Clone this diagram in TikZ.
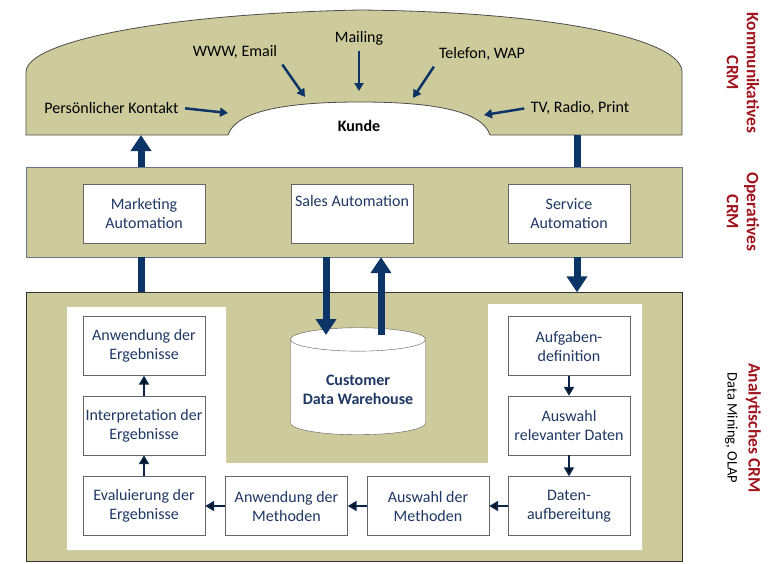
\documentclass[tikz,border=0pt]{standalone}
\usepackage{fontspec}
\setmainfont{Carlito}
\usetikzlibrary{arrows.meta,shapes.geometric}
\definecolor{olivband}{RGB}{205,203,156}
\definecolor{navy}{RGB}{12,52,102}
\definecolor{boxtext}{RGB}{31,56,100}
\definecolor{crmred}{RGB}{160,20,30}
\definecolor{bandline}{RGB}{105,115,135}
\begin{document}
\begin{tikzpicture}[x=1pt, y=-1pt, every node/.style={font=\fontsize{16}{19}\selectfont},
    stepbox/.style={draw=gray!80!black, fill=white, text=boxtext, align=center, minimum width=122pt, minimum height=59pt, inner sep=1pt},
    band/.style={fill=olivband, minimum width=656pt},
    bigarrow/.style={draw=navy, line width=7pt, -{Triangle[width=20pt,length=16pt]}},
    bigbar/.style={draw=navy, line width=7pt},
    channel/.style={draw=navy, line width=2.5pt, shorten <=3pt, -{Triangle[width=9pt,length=8pt]}},
    flow/.style={draw=navy!70!black, line width=2pt, -{Triangle[width=10pt,length=9pt,fill=black]}},
    crmlabel/.style={rotate=-90, align=center, text=crmred, font=\fontsize{17.5}{20}\selectfont\bfseries}]

\useasboundingbox (0,0) rectangle (768,563);

\filldraw[fill=olivband, draw=gray!60!black, line width=.8pt] (26,135) -- (26,72) .. controls (26,42) and (160,14) .. (360,10) .. controls (560,12) and (682,40) .. (682,72) -- (682,135) -- (490,135) .. controls (482,110) and (430,102) .. (360,102) .. controls (290,102) and (236,110) .. (228,135) -- cycle;

\node (kunde) at (359,126) {\bfseries Kunde};
\node (kontakt) at (111.5,108) {Persönlicher Kontakt};
\node (www) at (235,52) {WWW, Email};
\node (mailing) at (359,38) {Mailing};
\node (telefon) at (482,54) {Telefon, WAP};
\node (tv) at (580,108) {TV, Radio, Print};
\coordinate (k1) at (228,113);
\coordinate (k2) at (305,97);
\coordinate (k3) at (359,91);
\coordinate (k4) at (413,98);
\coordinate (k5) at (484,115);
\draw[channel] (kontakt.east) -- (k1);
\draw[channel] (www.south east) -- (k2);
\draw[channel] (mailing.south) -- (k3);
\draw[channel] (telefon.south west) -- (k4);
\draw[channel] (tv.west) -- (k5);

\node[band, draw=bandline, minimum height=90pt] (operativ) at (354,212) {};
\node[stepbox] (marketing) at (144,213.5) {Marketing\\Automation};
\node[stepbox] (sales) at (352,213.5) {Sales Automation\\\strut};
\node[stepbox] (service) at (569,213.5) {Service\\Automation};

\node[band, draw=gray!40!black, minimum height=269pt] (analytisch) at (354,427) {};
\fill[white] (67,307) -- (226,307) -- (226,463) -- (488,463) -- (488,304) -- (642,304) -- (642,550) -- (67,550) -- cycle;

\node[cylinder, shape border rotate=90, aspect=0.2, draw=gray!70!black, fill=white, text=boxtext, align=center, minimum width=135pt, minimum height=107pt] (dwh) at (358,389) {\raisebox{-6pt}[0pt][0pt]{\bfseries Customer}\\\raisebox{-6pt}[0pt][0pt]{\bfseries Data Warehouse}};

\coordinate (kom1) at (141,135);
\coordinate (kom2) at (577,135);
\coordinate (dwhin) at (326,335);
\coordinate (dwhout) at (381,335);
\draw[bigarrow] (operativ.north -| kom1) -- (kom1);
\draw[bigbar] (kom2) -- (operativ.north -| kom2);
\draw[bigbar] (operativ.south -| kom1) -- (analytisch.north -| kom1);
\draw[bigarrow] (operativ.south -| kom2) -- (analytisch.north -| kom2);
\draw[bigarrow] (operativ.south -| dwhin) -- (dwhin);
\draw[bigarrow] (dwhout) -- (operativ.south -| dwhout);

\node[stepbox] (anwErg) at (144,346) {Anwendung der\\Ergebnisse};
\node[stepbox] (interp) at (144,425.5) {Interpretation der\\Ergebnisse};
\node[stepbox] (evalu) at (144,506) {Evaluierung der\\Ergebnisse};
\node[stepbox] (anwMeth) at (286.5,506) {Anwendung der\\Methoden};
\node[stepbox] (auswMeth) at (428,506) {Auswahl der\\Methoden};
\node[stepbox] (datenAuf) at (569,506) {Daten-\\aufbereitung};
\node[stepbox] (auswDaten) at (569,425.5) {Auswahl\\relevanter Daten};
\node[stepbox] (aufgDef) at (569,346) {Aufgaben-\\definition};

\draw[flow] (aufgDef) -- (auswDaten);
\draw[flow] (auswDaten) -- (datenAuf);
\draw[flow] (datenAuf) -- (auswMeth);
\draw[flow] (auswMeth) -- (anwMeth);
\draw[flow] (anwMeth) -- (evalu);
\draw[flow] (evalu) -- (interp);
\draw[flow] (interp) -- (anwErg);

\node[crmlabel] (komCRM) at (743,73) {Kommunikatives\\CRM};
\node[crmlabel] (opCRM) at (743,212) {Operatives\\CRM};
\node[crmlabel, font=\fontsize{17.5}{21}\selectfont] (anaCRM) at (743,428) {{\bfseries Analytisches CRM}\\{\color{black}\fontsize{14.5}{16}\selectfont Data Mining, OLAP}};
\end{tikzpicture}
\end{document}
